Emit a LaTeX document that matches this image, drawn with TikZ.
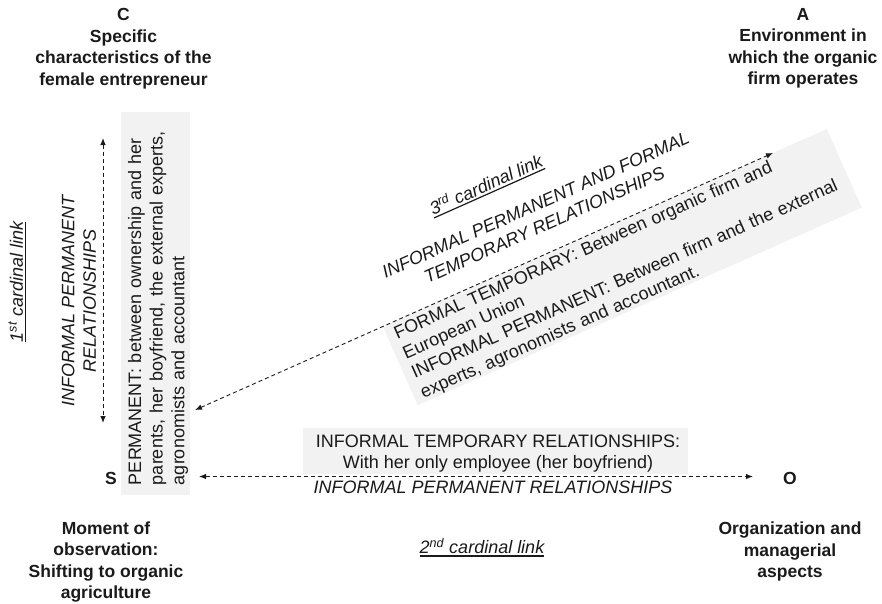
\documentclass[tikz,border=0pt]{standalone}
\usepackage{fontspec}
\setmainfont{Liberation Sans}
\usetikzlibrary{arrows.meta}
\definecolor{boxgrey}{HTML}{F2F2F2}
\definecolor{ink}{HTML}{1A1A1A}
\begin{document}
\begin{tikzpicture}[x=1pt,y=-1pt,
  every node/.style={inner sep=0pt,outer sep=0pt,text=ink},
  txt/.style={font=\fontsize{18}{21.6}\selectfont},
  boldlab/.style={font=\fontsize{17.5}{21.5}\selectfont\bfseries,align=center},
  ital/.style={font=\fontsize{18}{21.6}\selectfont\itshape,align=center},
  linklab/.style={font=\fontsize{18}{21.6}\selectfont\itshape,text depth=2.5pt},
  ul/.style={draw=ink,line width=1.2pt},
  conn/.style={draw=ink,line width=0.9pt,dash pattern=on 4pt off 3pt,
    {Latex[length=7pt,width=5.5pt]}-{Latex[length=7pt,width=5.5pt]}},
  greybox/.style={fill=boxgrey}
]
\useasboundingbox (0,0) rectangle (882,603);

% corner labels
\node[boldlab] (C) at (123.5,48.5) {C\\Specific\\characteristics of the\\female entrepreneur};
\node[boldlab] (A) at (803,48.5) {A\\Environment in\\which the organic\\firm operates};
\node[boldlab] (S) at (111,478) {S};
\node[boldlab] (O) at (790,478) {O};
\node[boldlab] (Slab) at (106,562) {Moment of\\observation:\\Shifting to organic\\agriculture};
\node[boldlab] (Olab) at (790,551.5) {Organization and\\managerial\\aspects};

% first cardinal link (vertical)
\node[greybox, minimum width=69pt, minimum height=383pt] (pbox) at (155.5,303.5) {};
\node[txt, rotate=90, text width=370pt, align=left] (ptext) at (158,300)
  {PERMANENT: between ownership and her\\parents, her boyfriend, the external experts,\\agronomists and accountant};
\coordinate (v1) at (103,138);
\coordinate (v2) at (103,423);
\draw[conn] (v1) -- (v2);
\node[ital, rotate=90] (vrel) at (79,301) {INFORMAL PERMANENT\\RELATIONSHIPS};
\node[linklab, rotate=90] (l1) at (17,282) {1\textsuperscript{st} cardinal link};
\draw[ul] (l1.south west) -- (l1.south east);

% second cardinal link (horizontal)
\node[greybox, minimum width=385pt, minimum height=46pt] (tbox) at (495.5,451) {};
\node[txt, align=center] (ttext) at (498,453.5)
  {INFORMAL TEMPORARY RELATIONSHIPS:\\With her only employee (her boyfriend)};
\coordinate (h1) at (199,476.5);
\coordinate (h2) at (753,476.5);
\draw[conn] (h1) -- (h2);
\node[ital] (hrel) at (493,487.5) {INFORMAL PERMANENT RELATIONSHIPS};
\node[linklab] (l2) at (482,547) {2\textsuperscript{nd} cardinal link};
\draw[ul] (l2.south west) -- (l2.south east);

% third cardinal link (diagonal)
\node[greybox, rotate=24, minimum width=486pt, minimum height=86pt] (dbox) at (622.3,267.1) {};
\node[txt, rotate=24, text width=470pt, align=left] (dtext) at (623.3,269.1)
  {FORMAL TEMPORARY: Between organic firm and\\European Union\\INFORMAL PERMANENT: Between firm and the external\\experts, agronomists and accountant.};
\coordinate (d1) at (195,410);
\coordinate (d2) at (773,153);
\draw[conn] (d1) -- (d2);
\node[ital, rotate=24] (drel) at (540,215) {INFORMAL PERMANENT AND FORMAL\\TEMPORARY RELATIONSHIPS};
\node[linklab, rotate=24] (l3) at (486,185) {3\textsuperscript{rd} cardinal link};
\draw[ul] (l3.south west) -- (l3.south east);
\end{tikzpicture}
\end{document}
